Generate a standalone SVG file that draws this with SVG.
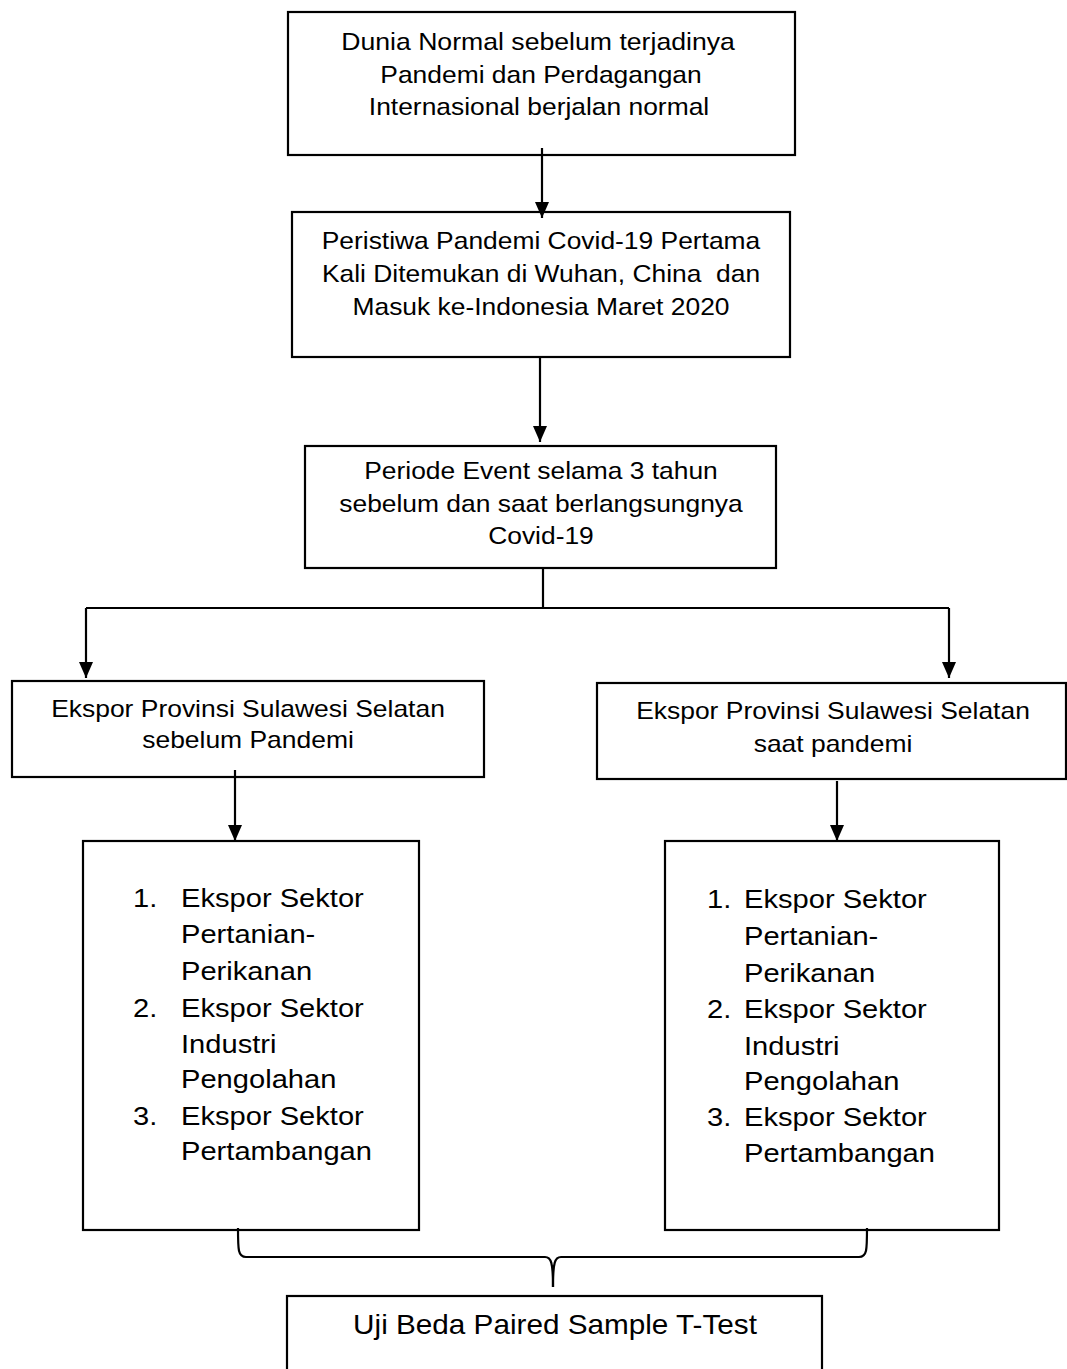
<svg xmlns="http://www.w3.org/2000/svg" width="1067" height="1369" viewBox="0 0 1067 1369">
<style>
.box{fill:#fff;stroke:#000;stroke-width:2.2}
.t{font-family:"Liberation Sans",Arial,sans-serif;fill:#000}
.c{text-anchor:middle}
.f1{font-size:24px}
.f2{font-size:23px}
.f3{font-size:26px}
.f4{font-size:27px}
.pre{white-space:pre}
.conn{stroke:#000;stroke-width:2.2;fill:none}
</style>
<defs>
<marker id="ah" viewBox="0 0 16 14" refX="16" refY="7" markerWidth="16" markerHeight="14" markerUnits="userSpaceOnUse" orient="auto">
<path d="M0,0 L16,7 L0,14 Z" fill="#000"/>
</marker>
</defs>
<rect width="1067" height="1369" fill="#fff"/>

<g id="n1">
<rect class="box" x="288" y="12" width="507" height="143"/>
<text class="t c f1" transform="translate(538,50) scale(1.11,1)">Dunia Normal sebelum terjadinya</text>
<text class="t c f1" transform="translate(541,83) scale(1.1,1)">Pandemi dan Perdagangan</text>
<text class="t c f1" transform="translate(539,115) scale(1.1,1)">Internasional berjalan normal</text>
</g>

<g id="n2">
<rect class="box" x="292" y="212" width="498" height="145"/>
<text class="t c f1" transform="translate(541,249) scale(1.1,1)">Peristiwa Pandemi Covid-19 Pertama</text>
<text class="t c f1 pre" transform="translate(541,282) scale(1.1,1)">Kali Ditemukan di Wuhan, China  dan</text>
<text class="t c f1" transform="translate(541,315) scale(1.1,1)">Masuk ke-Indonesia Maret 2020</text>
</g>

<g id="n3">
<rect class="box" x="305" y="446" width="471" height="122"/>
<text class="t c f1" transform="translate(541,479) scale(1.1,1)">Periode Event selama 3 tahun</text>
<text class="t c f1" transform="translate(541,512) scale(1.1,1)">sebelum dan saat berlangsungnya</text>
<text class="t c f1" transform="translate(541,544) scale(1.1,1)">Covid-19</text>
</g>

<g id="n4">
<rect class="box" x="12" y="681" width="472" height="96"/>
<text class="t c f2" transform="translate(248,717) scale(1.15,1)">Ekspor Provinsi Sulawesi Selatan</text>
<text class="t c f2" transform="translate(248,748) scale(1.15,1)">sebelum Pandemi</text>
</g>

<g id="n5">
<rect class="box" x="597" y="683" width="469" height="96"/>
<text class="t c f2" transform="translate(833,719) scale(1.15,1)">Ekspor Provinsi Sulawesi Selatan</text>
<text class="t c f2" transform="translate(833,752) scale(1.15,1)">saat pandemi</text>
</g>

<g id="n6">
<rect class="box" x="83" y="841" width="336" height="389"/>
<text class="t f3" transform="translate(133,907) scale(1.12,1)">1.</text>
<text class="t f3" transform="translate(181,907) scale(1.12,1)">Ekspor Sektor</text>
<text class="t f3" transform="translate(181,943) scale(1.12,1)">Pertanian-</text>
<text class="t f3" transform="translate(181,980) scale(1.12,1)">Perikanan</text>
<text class="t f3" transform="translate(133,1017) scale(1.12,1)">2.</text>
<text class="t f3" transform="translate(181,1017) scale(1.12,1)">Ekspor Sektor</text>
<text class="t f3" transform="translate(181,1053) scale(1.12,1)">Industri</text>
<text class="t f3" transform="translate(181,1088) scale(1.12,1)">Pengolahan</text>
<text class="t f3" transform="translate(133,1125) scale(1.12,1)">3.</text>
<text class="t f3" transform="translate(181,1125) scale(1.12,1)">Ekspor Sektor</text>
<text class="t f3" transform="translate(181,1160) scale(1.12,1)">Pertambangan</text>
</g>

<g id="n7">
<rect class="box" x="665" y="841" width="334" height="389"/>
<text class="t f3" transform="translate(707,908) scale(1.12,1)">1.</text>
<text class="t f3" transform="translate(744,908) scale(1.12,1)">Ekspor Sektor</text>
<text class="t f3" transform="translate(744,945) scale(1.12,1)">Pertanian-</text>
<text class="t f3" transform="translate(744,982) scale(1.12,1)">Perikanan</text>
<text class="t f3" transform="translate(707,1018) scale(1.12,1)">2.</text>
<text class="t f3" transform="translate(744,1018) scale(1.12,1)">Ekspor Sektor</text>
<text class="t f3" transform="translate(744,1055) scale(1.12,1)">Industri</text>
<text class="t f3" transform="translate(744,1090) scale(1.12,1)">Pengolahan</text>
<text class="t f3" transform="translate(707,1126) scale(1.12,1)">3.</text>
<text class="t f3" transform="translate(744,1126) scale(1.12,1)">Ekspor Sektor</text>
<text class="t f3" transform="translate(744,1162) scale(1.12,1)">Pertambangan</text>
</g>

<g id="n8">
<rect class="box" x="287" y="1296" width="535" height="100"/>
<text class="t c f4" transform="translate(555,1334) scale(1.1,1)">Uji Beda Paired Sample T-Test</text>
</g>

<g id="connectors">
<path class="conn" d="M542,148 V218" marker-end="url(#ah)"/>
<path class="conn" d="M540,357 V442" marker-end="url(#ah)"/>
<path class="conn" d="M543,568 V608"/>
<path class="conn" d="M86,608 H949"/>
<path class="conn" d="M86,608 V678" marker-end="url(#ah)"/>
<path class="conn" d="M949,608 V678" marker-end="url(#ah)"/>
<path class="conn" d="M235,770 V841" marker-end="url(#ah)"/>
<path class="conn" d="M837,781 V841" marker-end="url(#ah)"/>
<path class="conn" d="M238,1228 C238,1250 238,1257 246,1257 H545 C551,1257 553,1262 553,1287"/>
<path class="conn" d="M867,1228 C867,1250 867,1257 859,1257 H561 C555,1257 553,1262 553,1287"/>
</g>
</svg>
